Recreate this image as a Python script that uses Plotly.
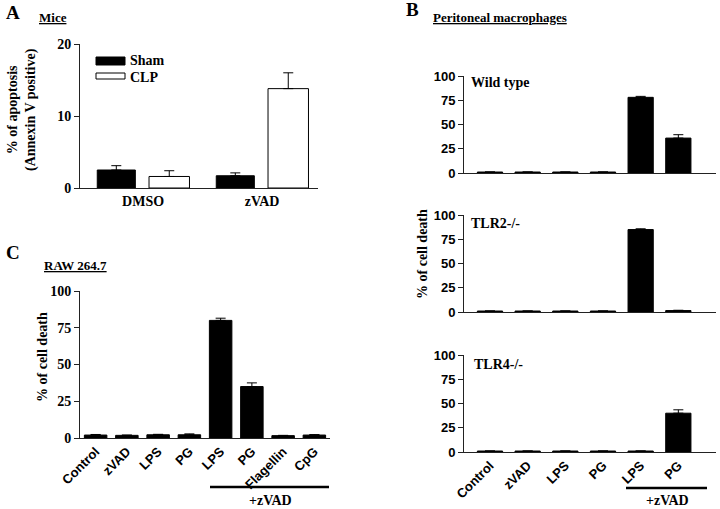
import plotly.graph_objects as go

# ---------- data ----------
a_groups = ["DMSO", "zVAD"]
a_series = ["Sham", "CLP"]
a_sham = [2.5, 1.7]
a_sham_err = [0.6, 0.4]
a_clp = [1.6, 13.8]
a_clp_err = [0.8, 2.2]

b_labels = ["Control", "zVAD", "LPS", "PG", "LPS", "PG"]
b_wt = [1.0, 1.0, 1.0, 1.0, 78.0, 36.0]
b_wt_err = [0, 0, 0, 0, 1.0, 3.5]
b_tlr2 = [1.0, 1.0, 1.0, 1.0, 85.0, 1.5]
b_tlr2_err = [0, 0, 0, 0, 0.8, 0.3]
b_tlr4 = [1.0, 1.0, 1.0, 1.0, 1.0, 40.0]
b_tlr4_err = [0, 0, 0, 0, 0, 3.5]

c_labels = ["Control", "zVAD", "LPS", "PG", "LPS", "PG", "Flagellin", "CpG"]
c_vals = [2.0, 1.8, 2.2, 2.2, 80.0, 35.0, 1.6, 2.0]
c_err = [0.4, 0.2, 0.3, 0.6, 1.5, 2.5, 0.2, 0.3]

b_ticks = [0, 25, 50, 75, 100]

SERIF = "Liberation Serif"
SANS = "Liberation Sans"
AX = "#222"

fig = go.Figure()

def err(vals):
    return dict(type="data", array=vals, arrayminus=[0] * len(vals), symmetric=False,
                color="black", thickness=1, width=5, visible=True)

# Panel A
fig.add_trace(go.Bar(x=a_groups, y=a_sham, name=a_series[0], marker=dict(color="black", line=dict(color="black", width=1)),
                     width=0.32, offset=-0.385, error_y=err(a_sham_err), xaxis="x", yaxis="y", showlegend=False))
fig.add_trace(go.Bar(x=a_groups, y=a_clp, name=a_series[1], marker=dict(color="white", line=dict(color="black", width=1)),
                     width=0.34, offset=0.05, error_y=err(a_clp_err), xaxis="x", yaxis="y", showlegend=False))

# Panel B
bx = list(range(len(b_labels)))
for vals, e, ax in [(b_wt, b_wt_err, "2"), (b_tlr2, b_tlr2_err, "3"), (b_tlr4, b_tlr4_err, "4")]:
    fig.add_trace(go.Bar(x=bx, y=vals, marker=dict(color="black", line=dict(color="black", width=1)),
                         width=0.67, error_y=err(e), xaxis="x" + ax, yaxis="y" + ax, showlegend=False))

# Panel C
cx = list(range(len(c_labels)))
fig.add_trace(go.Bar(x=cx, y=c_vals, marker=dict(color="black", line=dict(color="black", width=1)),
                     width=0.72, error_y=err(c_err), xaxis="x5", yaxis="y5", showlegend=False))

def yax(domain, rng, tickvals, font, anchor):
    return dict(domain=domain, range=rng, tickvals=tickvals, showgrid=False, zeroline=False,
                showline=True, linecolor=AX, linewidth=1, ticks="outside", ticklen=5, tickcolor=AX,
                tickfont=font, anchor=anchor, automargin=False, fixedrange=True)

def xax(domain, rng, anchor, tickvals=None, ticktext=None, showlabels=True, font=None, angle=0):
    d = dict(domain=domain, range=rng, showgrid=False, zeroline=False, showline=True, linecolor=AX,
             linewidth=1, ticks="", anchor=anchor, showticklabels=showlabels, tickangle=angle,
             automargin=False, fixedrange=True)
    if tickvals is not None:
        d["tickvals"] = tickvals
        d["ticktext"] = ticktext
    if font:
        d["tickfont"] = font
    return d

serif_b13 = dict(family=SERIF, size=13, color="black", weight="bold")
sans_b13 = dict(family=SANS, size=13, color="black", weight="bold")

fig.update_layout(
    width=720, height=509, margin=dict(l=0, r=0, t=0, b=0),
    paper_bgcolor="white", plot_bgcolor="white",
    barmode="overlay",
    showlegend=False,
    xaxis=xax([80 / 720, 318 / 720], [-0.53, 1.47], "y", font=dict(serif_b13, size=14)),
    yaxis=yax([1 - 188 / 509, 1 - 44 / 509], [0, 20], [0, 10, 20], dict(serif_b13, size=14), "x"),
    xaxis2=xax([464 / 720, 716 / 720], [-0.69, 6.0], "y2", showlabels=False),
    yaxis2=yax([1 - 173 / 509, 1 - 76 / 509], [0, 100], b_ticks, sans_b13, "x2"),
    xaxis3=xax([464 / 720, 716 / 720], [-0.69, 6.0], "y3", showlabels=False),
    yaxis3=yax([1 - 312 / 509, 1 - 215 / 509], [0, 100], b_ticks, sans_b13, "x3"),
    xaxis4=xax([464 / 720, 716 / 720], [-0.69, 6.0], "y4", tickvals=bx, ticktext=b_labels,
               font=sans_b13, angle=-45),
    yaxis4=yax([1 - 452 / 509, 1 - 355 / 509], [0, 100], b_ticks, sans_b13, "x4"),
    xaxis5=xax([80 / 720, 330 / 720], [-0.5, 7.5], "y5", tickvals=cx, ticktext=c_labels,
               font=sans_b13, angle=-45),
    yaxis5=yax([1 - 438 / 509, 1 - 291 / 509], [0, 100], b_ticks, dict(serif_b13, size=14), "x5"),
)

def ann(text, x, y, size=13, family=SERIF, angle=0, xanchor="center", yanchor="middle"):
    fig.add_annotation(text=text, x=x / 720, y=1 - y / 509, xref="paper", yref="paper", showarrow=False,
                       font=dict(family=family, size=size, color="black"), textangle=angle,
                       xanchor=xanchor, yanchor=yanchor)

ann("<b>A</b>", 4, 12, size=19, xanchor="left")
ann("<b><u>Mice</u></b>", 37, 17, size=13, xanchor="left")
ann("<b>B</b>", 404, 10, size=19, xanchor="left")
ann("<b><u>Peritoneal macrophages</u></b>", 431, 17, size=13, xanchor="left")
ann("<b>C</b>", 4, 253, size=19, xanchor="left")
ann("<b><u>RAW 264.7</u></b>", 42, 265, size=13, xanchor="left")

ann("<b>% of apoptosis<br>(Annexin V positive)</b>", 22, 110, size=14, angle=-90)
ann("<b>% of cell death</b>", 422, 254, size=14, angle=-90)
ann("<b>% of cell death</b>", 42, 357, size=14, angle=-90)

ann("<b>Wild type</b>", 469, 82, size=14, xanchor="left")
ann("<b>TLR2-/-</b>", 469, 224, size=14, xanchor="left")
ann("<b>TLR4-/-</b>", 472, 364, size=14, xanchor="left")

ann("<b>+zVAD</b>", 667, 500, size=14)
ann("<b>+zVAD</b>", 270, 500, size=14)

# legend for panel A
fig.add_shape(type="rect", xref="paper", yref="paper", x0=96 / 720, x1=125 / 720,
              y0=1 - 65 / 509, y1=1 - 57 / 509, fillcolor="black", line=dict(color="black", width=1))
fig.add_shape(type="rect", xref="paper", yref="paper", x0=96 / 720, x1=125 / 720,
              y0=1 - 79 / 509, y1=1 - 73 / 509, fillcolor="white", line=dict(color="black", width=1))
ann("<b>%s</b>" % a_series[0], 128, 61, size=14, xanchor="left")
ann("<b>%s</b>" % a_series[1], 128, 77, size=14, xanchor="left")

fig.add_shape(type="line", xref="paper", yref="paper", x0=626 / 720, x1=707 / 720,
              y0=1 - 488 / 509, y1=1 - 488 / 509, line=dict(color="black", width=2.5))
fig.add_shape(type="line", xref="paper", yref="paper", x0=210 / 720, x1=329 / 720,
              y0=1 - 487 / 509, y1=1 - 487 / 509, line=dict(color="black", width=2.5))

fig.write_html("out.html", config={"displayModeBar": False},
               post_script="document.body.style.margin='0';document.body.style.overflow='hidden';")
